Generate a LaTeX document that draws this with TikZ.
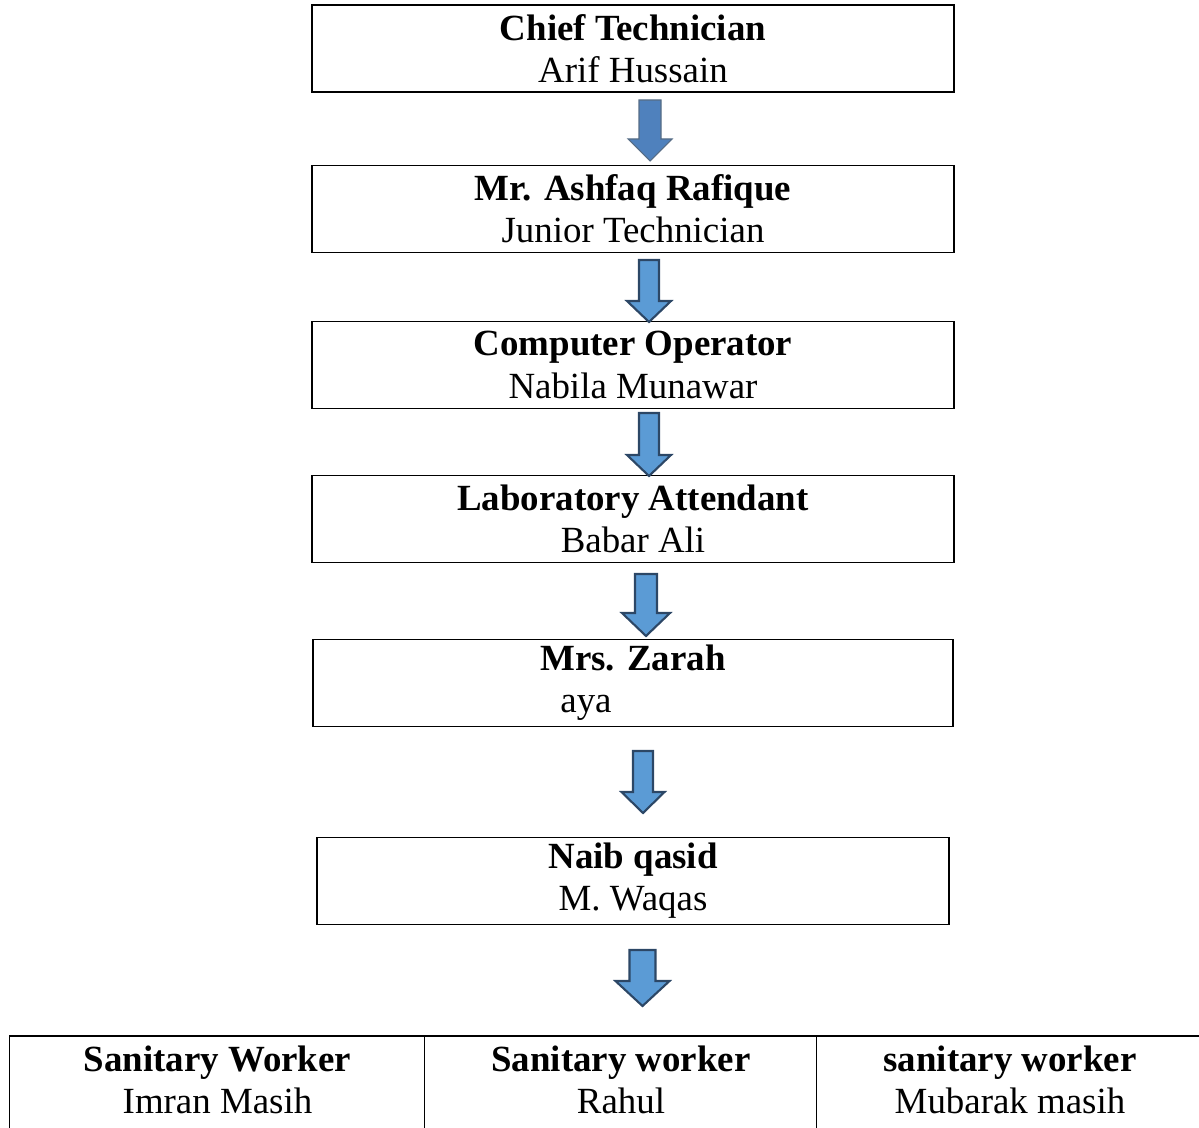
\documentclass[tikz,border=0pt]{standalone}
\usepackage{fontspec}
\setmainfont{Liberation Serif}
\usepackage{tikz}

\definecolor{arrowdark}{HTML}{4F81BD}
\definecolor{arrowlight}{HTML}{5B9BD5}
\definecolor{arrowedge}{HTML}{2C4766}

% block arrow: x centre, shaft top, head base, tip, half shaft, half head
\newcommand\blockarrow[7][]{%
  \draw[#1] (#2-#6,#3) -- (#2+#6,#3) -- (#2+#6,#4) -- (#2+#7,#4) -- (#2,#5)
    -- (#2-#7,#4) -- (#2-#6,#4) -- cycle;}

\begin{document}
\begin{tikzpicture}[x=0.02cm,y=-0.02cm,
  box/.style={draw,line width=0.8pt,minimum width=12.84cm,minimum height=1.74cm,
    align=center,inner sep=0pt,font=\fontsize{21}{24}\selectfont},
  cell/.style={box,draw=none,minimum width=#1},
  firstarrow/.style={fill=arrowdark,draw=arrowedge!80,line width=0.6pt},
  nextarrow/.style={fill=arrowlight,draw=arrowedge,line width=1.2pt,line join=miter}]
  \clip (0,0) rectangle (1199,1128);

  \node[box] (chief) at (633,48.5) {\textbf{Chief Technician}\\Arif Hussain};
  \node[box] (junior) at (633,209) {\textbf{Mr. Ashfaq Rafique}\\Junior Technician};
  \node[box] (operator) at (633,365) {\textbf{Computer Operator}\\Nabila Munawar};
  \node[box] (attendant) at (633,519) {\textbf{Laboratory Attendant}\\Babar Ali};
  \node[box,minimum width=12.8cm] (aya) at (633,683) {\textbf{Mrs. Zarah}\\\hspace*{-1.88cm}aya};
  \node[box,minimum width=12.64cm] (qasid) at (633,881) {\textbf{Naib qasid}\\M. Waqas};

  % sanitary workers, the table runs off the page
  \node[cell=8.3cm] (imran) at (217.5,1080) {\textbf{Sanitary Worker}\\Imran Masih};
  \node[cell=7.84cm] (rahul) at (621,1080) {\textbf{Sanitary worker}\\Rahul};
  \node[cell=7.72cm] (mubarak) at (1010,1080) {\textbf{sanitary worker}\\Mubarak masih};
  \draw[line width=0.8pt] (imran.north west) -- (mubarak.north east);
  \draw[line width=0.8pt] (imran.north west) -- ++(0,120);
  \draw[line width=0.8pt] (rahul.north west) -- ++(0,120);
  \draw[line width=0.8pt] (mubarak.north west) -- ++(0,120);

  \blockarrow[firstarrow]{650}{100}{139}{161}{11}{22}
  \blockarrow[nextarrow]{649}{260}{301}{322}{10}{22}
  \blockarrow[nextarrow]{649}{413}{455}{476}{10}{22}
  \blockarrow[nextarrow]{646}{574}{613}{636}{11}{24}
  \blockarrow[nextarrow]{643}{751}{792}{813}{10}{21.5}
  \blockarrow[nextarrow]{642.5}{950}{981}{1006}{13}{27}
\end{tikzpicture}
\end{document}
